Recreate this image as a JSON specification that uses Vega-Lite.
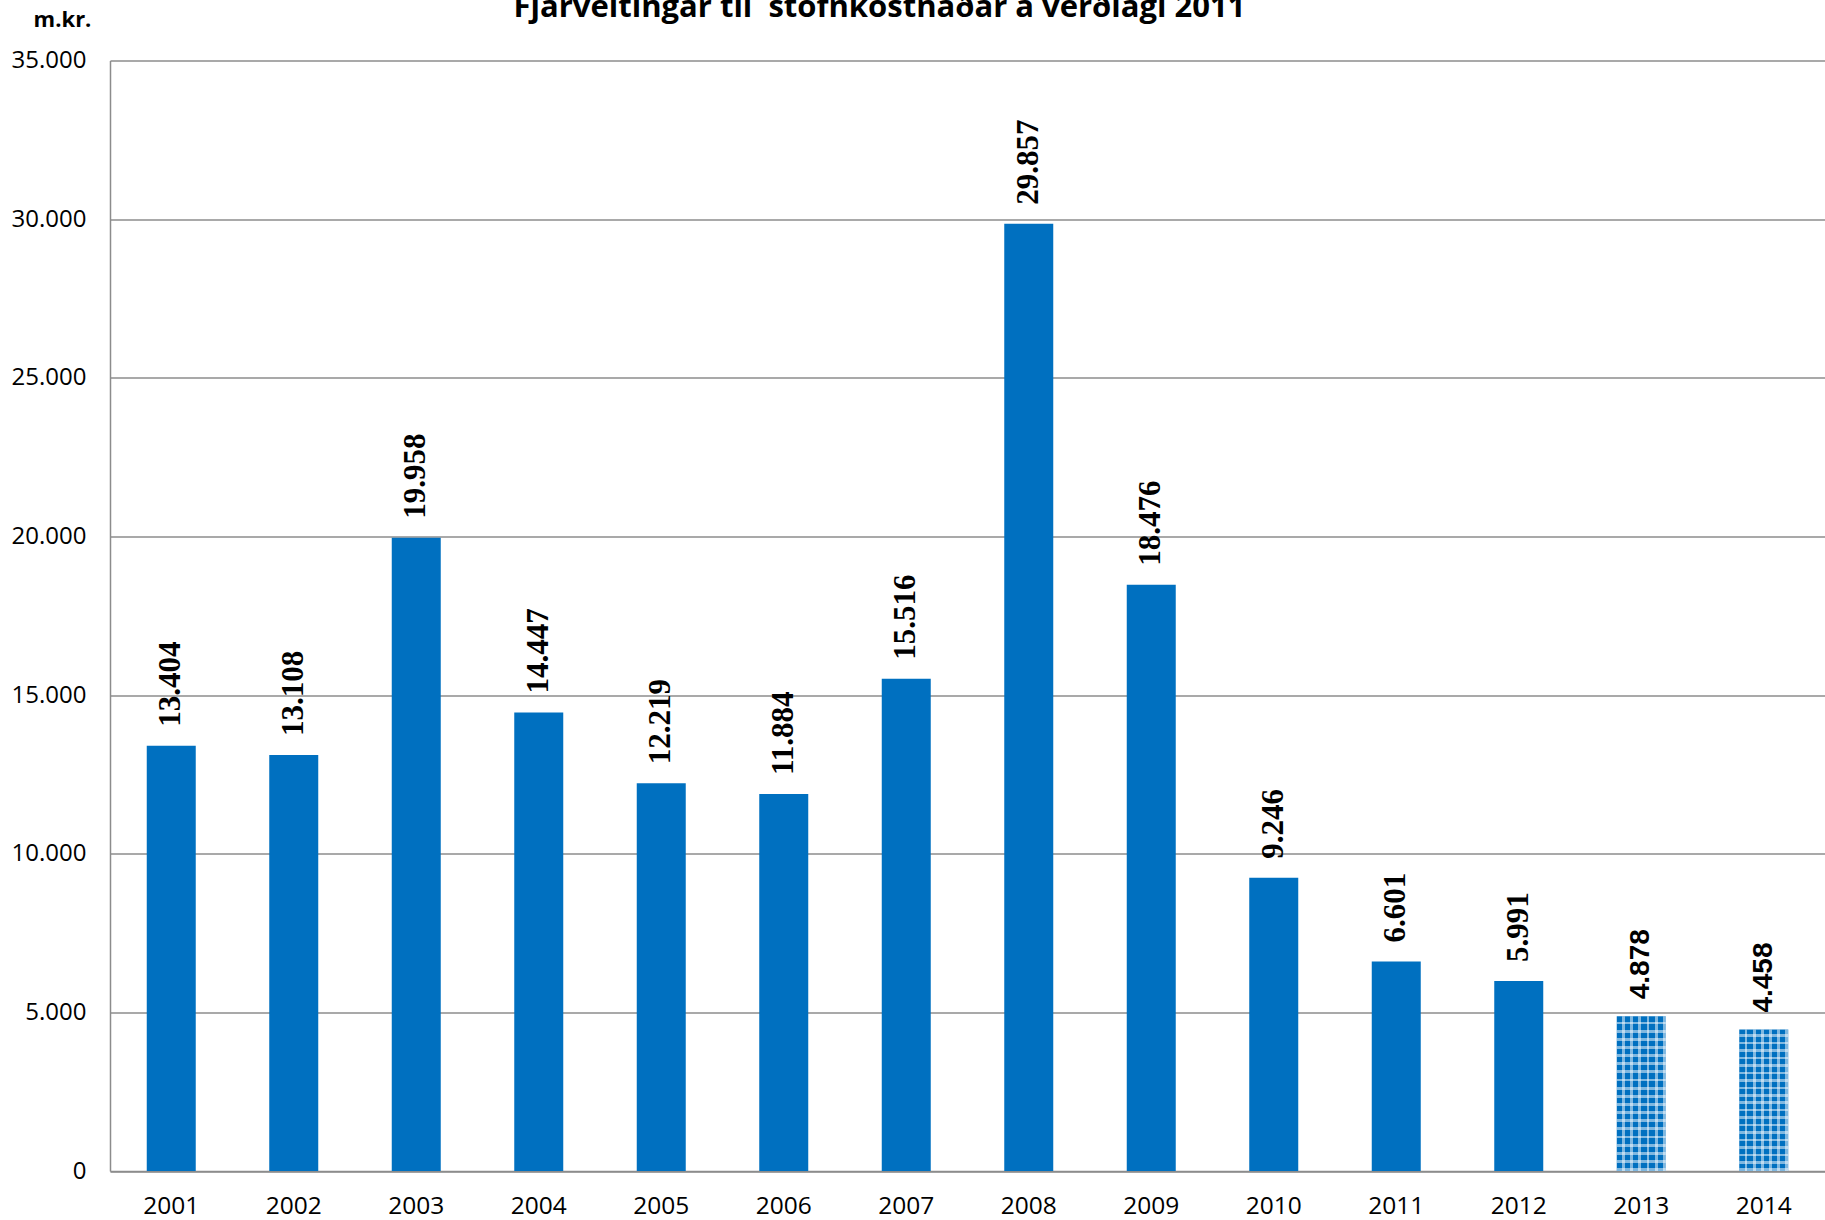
{
  "$schema": "https://vega.github.io/schema/vega-lite/v6.json",
  "autosize": {"type": "none"},
  "width": 1715,
  "height": 1110.5,
  "padding": {"left": 110, "top": 60.5, "right": 0, "bottom": 49},
  "background": "white",
  "config": {
    "locale": {"number": {"decimal": ",", "thousands": ".", "grouping": [3], "currency": ["", " kr."]}},
    "view": {"stroke": null}
  },
  "title": {
    "text": "Fjárveitingar til \u00a0stofnkostnaðar á verðlagi 2011",
    "font": "Open Sans",
    "fontSize": 31,
    "fontWeight": "bold",
    "color": "black",
    "anchor": "middle",
    "frame": "group",
    "baseline": "alphabetic",
    "offset": 0,
    "dy": 39.5,
    "dx": -88
  },
  "data": {
    "values": [
      {"year": "2001", "value": 13404, "status": "actual"},
      {"year": "2002", "value": 13108, "status": "actual"},
      {"year": "2003", "value": 19958, "status": "actual"},
      {"year": "2004", "value": 14447, "status": "actual"},
      {"year": "2005", "value": 12219, "status": "actual"},
      {"year": "2006", "value": 11884, "status": "actual"},
      {"year": "2007", "value": 15516, "status": "actual"},
      {"year": "2008", "value": 29857, "status": "actual"},
      {"year": "2009", "value": 18476, "status": "actual"},
      {"year": "2010", "value": 9246, "status": "actual"},
      {"year": "2011", "value": 6601, "status": "actual"},
      {"year": "2012", "value": 5991, "status": "actual"},
      {"year": "2013", "value": 4878, "status": "estimate"},
      {"year": "2014", "value": 4458, "status": "estimate"}
    ]
  },
  "encoding": {
    "x": {
      "field": "year", "type": "ordinal",
      "scale": {"paddingInner": 0.6, "paddingOuter": 0.3},
      "axis": {
        "title": null, "labelAngle": 0, "ticks": false,
        "labelFont": "Open Sans", "labelFontSize": 24.5, "labelColor": "black",
        "labelPadding": 23, "domainColor": "#8c8c8c", "domainWidth": 1.5
      }
    },
    "y": {
      "field": "value", "type": "quantitative",
      "scale": {"domain": [0, 35000], "nice": false},
      "axis": {
        "values": [0, 5000, 10000, 15000, 20000, 25000, 30000, 35000],
        "format": ",.0f",
        "title": "m.kr.",
        "titleAngle": 0, "titleX": -48, "titleY": -41.5,
        "titleAlign": "center", "titleBaseline": "middle",
        "titleFont": "Open Sans", "titleFontSize": 22, "titleFontWeight": "bold", "titleColor": "black",
        "labelFont": "Open Sans", "labelFontSize": 24, "labelColor": "black",
        "labelPadding": 24, "ticks": false,
        "grid": true, "gridColor": "#8c8c8c", "gridWidth": 1.5,
        "domainColor": "#8c8c8c", "domainWidth": 1.5
      }
    }
  },
  "layer": [
    {
      "mark": {"type": "bar", "color": "#0070C0"}
    },
    {
      "transform": [{"filter": "datum.status == 'estimate'"}],
      "mark": {"type": "bar", "fill": {"gradient": "linear", "x1": 0, "y1": 0, "x2": 1, "y2": 0, "stops": [
        {"offset": 0, "color": "rgba(255,255,255,0)"}, {"offset": 0.1083, "color": "rgba(255,255,255,0)"}, {"offset": 0.1083, "color": "rgba(255,255,255,0.5)"}, {"offset": 0.1667, "color": "rgba(255,255,255,0.5)"},
        {"offset": 0.1667, "color": "rgba(255,255,255,0)"}, {"offset": 0.275, "color": "rgba(255,255,255,0)"}, {"offset": 0.275, "color": "rgba(255,255,255,0.5)"}, {"offset": 0.3333, "color": "rgba(255,255,255,0.5)"},
        {"offset": 0.3333, "color": "rgba(255,255,255,0)"}, {"offset": 0.4417, "color": "rgba(255,255,255,0)"}, {"offset": 0.4417, "color": "rgba(255,255,255,0.5)"}, {"offset": 0.5, "color": "rgba(255,255,255,0.5)"},
        {"offset": 0.5, "color": "rgba(255,255,255,0)"}, {"offset": 0.6083, "color": "rgba(255,255,255,0)"}, {"offset": 0.6083, "color": "rgba(255,255,255,0.5)"}, {"offset": 0.6667, "color": "rgba(255,255,255,0.5)"},
        {"offset": 0.6667, "color": "rgba(255,255,255,0)"}, {"offset": 0.775, "color": "rgba(255,255,255,0)"}, {"offset": 0.775, "color": "rgba(255,255,255,0.5)"}, {"offset": 0.8333, "color": "rgba(255,255,255,0.5)"},
        {"offset": 0.8333, "color": "rgba(255,255,255,0)"}, {"offset": 0.9417, "color": "rgba(255,255,255,0)"}, {"offset": 0.9417, "color": "rgba(255,255,255,0.5)"}, {"offset": 1, "color": "rgba(255,255,255,0.5)"}
      ]}}
    },
    {
      "transform": [{"filter": "datum.status == 'estimate'"}],
      "mark": {"type": "bar", "fill": {"gradient": "linear", "x1": 0, "y1": 0, "x2": 0, "y2": 1, "stops": [
        {"offset": 0, "color": "rgba(255,255,255,0)"}, {"offset": 0.0342, "color": "rgba(255,255,255,0)"}, {"offset": 0.0342, "color": "rgba(255,255,255,0.5)"}, {"offset": 0.0526, "color": "rgba(255,255,255,0.5)"},
        {"offset": 0.0526, "color": "rgba(255,255,255,0)"}, {"offset": 0.0868, "color": "rgba(255,255,255,0)"}, {"offset": 0.0868, "color": "rgba(255,255,255,0.5)"}, {"offset": 0.1053, "color": "rgba(255,255,255,0.5)"},
        {"offset": 0.1053, "color": "rgba(255,255,255,0)"}, {"offset": 0.1395, "color": "rgba(255,255,255,0)"}, {"offset": 0.1395, "color": "rgba(255,255,255,0.5)"}, {"offset": 0.1579, "color": "rgba(255,255,255,0.5)"},
        {"offset": 0.1579, "color": "rgba(255,255,255,0)"}, {"offset": 0.1921, "color": "rgba(255,255,255,0)"}, {"offset": 0.1921, "color": "rgba(255,255,255,0.5)"}, {"offset": 0.2105, "color": "rgba(255,255,255,0.5)"},
        {"offset": 0.2105, "color": "rgba(255,255,255,0)"}, {"offset": 0.2447, "color": "rgba(255,255,255,0)"}, {"offset": 0.2447, "color": "rgba(255,255,255,0.5)"}, {"offset": 0.2632, "color": "rgba(255,255,255,0.5)"},
        {"offset": 0.2632, "color": "rgba(255,255,255,0)"}, {"offset": 0.2974, "color": "rgba(255,255,255,0)"}, {"offset": 0.2974, "color": "rgba(255,255,255,0.5)"}, {"offset": 0.3158, "color": "rgba(255,255,255,0.5)"},
        {"offset": 0.3158, "color": "rgba(255,255,255,0)"}, {"offset": 0.35, "color": "rgba(255,255,255,0)"}, {"offset": 0.35, "color": "rgba(255,255,255,0.5)"}, {"offset": 0.3684, "color": "rgba(255,255,255,0.5)"},
        {"offset": 0.3684, "color": "rgba(255,255,255,0)"}, {"offset": 0.4026, "color": "rgba(255,255,255,0)"}, {"offset": 0.4026, "color": "rgba(255,255,255,0.5)"}, {"offset": 0.4211, "color": "rgba(255,255,255,0.5)"},
        {"offset": 0.4211, "color": "rgba(255,255,255,0)"}, {"offset": 0.4553, "color": "rgba(255,255,255,0)"}, {"offset": 0.4553, "color": "rgba(255,255,255,0.5)"}, {"offset": 0.4737, "color": "rgba(255,255,255,0.5)"},
        {"offset": 0.4737, "color": "rgba(255,255,255,0)"}, {"offset": 0.5079, "color": "rgba(255,255,255,0)"}, {"offset": 0.5079, "color": "rgba(255,255,255,0.5)"}, {"offset": 0.5263, "color": "rgba(255,255,255,0.5)"},
        {"offset": 0.5263, "color": "rgba(255,255,255,0)"}, {"offset": 0.5605, "color": "rgba(255,255,255,0)"}, {"offset": 0.5605, "color": "rgba(255,255,255,0.5)"}, {"offset": 0.5789, "color": "rgba(255,255,255,0.5)"},
        {"offset": 0.5789, "color": "rgba(255,255,255,0)"}, {"offset": 0.6131, "color": "rgba(255,255,255,0)"}, {"offset": 0.6131, "color": "rgba(255,255,255,0.5)"}, {"offset": 0.6316, "color": "rgba(255,255,255,0.5)"},
        {"offset": 0.6316, "color": "rgba(255,255,255,0)"}, {"offset": 0.6658, "color": "rgba(255,255,255,0)"}, {"offset": 0.6658, "color": "rgba(255,255,255,0.5)"}, {"offset": 0.6842, "color": "rgba(255,255,255,0.5)"},
        {"offset": 0.6842, "color": "rgba(255,255,255,0)"}, {"offset": 0.7184, "color": "rgba(255,255,255,0)"}, {"offset": 0.7184, "color": "rgba(255,255,255,0.5)"}, {"offset": 0.7368, "color": "rgba(255,255,255,0.5)"},
        {"offset": 0.7368, "color": "rgba(255,255,255,0)"}, {"offset": 0.771, "color": "rgba(255,255,255,0)"}, {"offset": 0.771, "color": "rgba(255,255,255,0.5)"}, {"offset": 0.7895, "color": "rgba(255,255,255,0.5)"},
        {"offset": 0.7895, "color": "rgba(255,255,255,0)"}, {"offset": 0.8237, "color": "rgba(255,255,255,0)"}, {"offset": 0.8237, "color": "rgba(255,255,255,0.5)"}, {"offset": 0.8421, "color": "rgba(255,255,255,0.5)"},
        {"offset": 0.8421, "color": "rgba(255,255,255,0)"}, {"offset": 0.8763, "color": "rgba(255,255,255,0)"}, {"offset": 0.8763, "color": "rgba(255,255,255,0.5)"}, {"offset": 0.8947, "color": "rgba(255,255,255,0.5)"},
        {"offset": 0.8947, "color": "rgba(255,255,255,0)"}, {"offset": 0.9289, "color": "rgba(255,255,255,0)"}, {"offset": 0.9289, "color": "rgba(255,255,255,0.5)"}, {"offset": 0.9474, "color": "rgba(255,255,255,0.5)"},
        {"offset": 0.9474, "color": "rgba(255,255,255,0)"}, {"offset": 0.9816, "color": "rgba(255,255,255,0)"}, {"offset": 0.9816, "color": "rgba(255,255,255,0.5)"}, {"offset": 1, "color": "rgba(255,255,255,0.5)"}
      ]}}
    },
    {
      "transform": [{"filter": "datum.status == 'actual'"}],
      "mark": {"type": "text", "angle": 270, "align": "left", "baseline": "middle", "dx": 19,
               "font": "Liberation Serif", "fontSize": 31, "fontWeight": "bold", "color": "black"},
      "encoding": {"text": {"field": "value", "type": "quantitative", "format": ","}}
    },
    {
      "transform": [{"filter": "datum.status == 'estimate'"}],
      "mark": {"type": "text", "angle": 270, "align": "left", "baseline": "middle", "dx": 17,
               "font": "Liberation Sans", "fontSize": 28, "fontWeight": "bold", "color": "black"},
      "encoding": {"text": {"field": "value", "type": "quantitative", "format": ","}}
    }
  ]
}
